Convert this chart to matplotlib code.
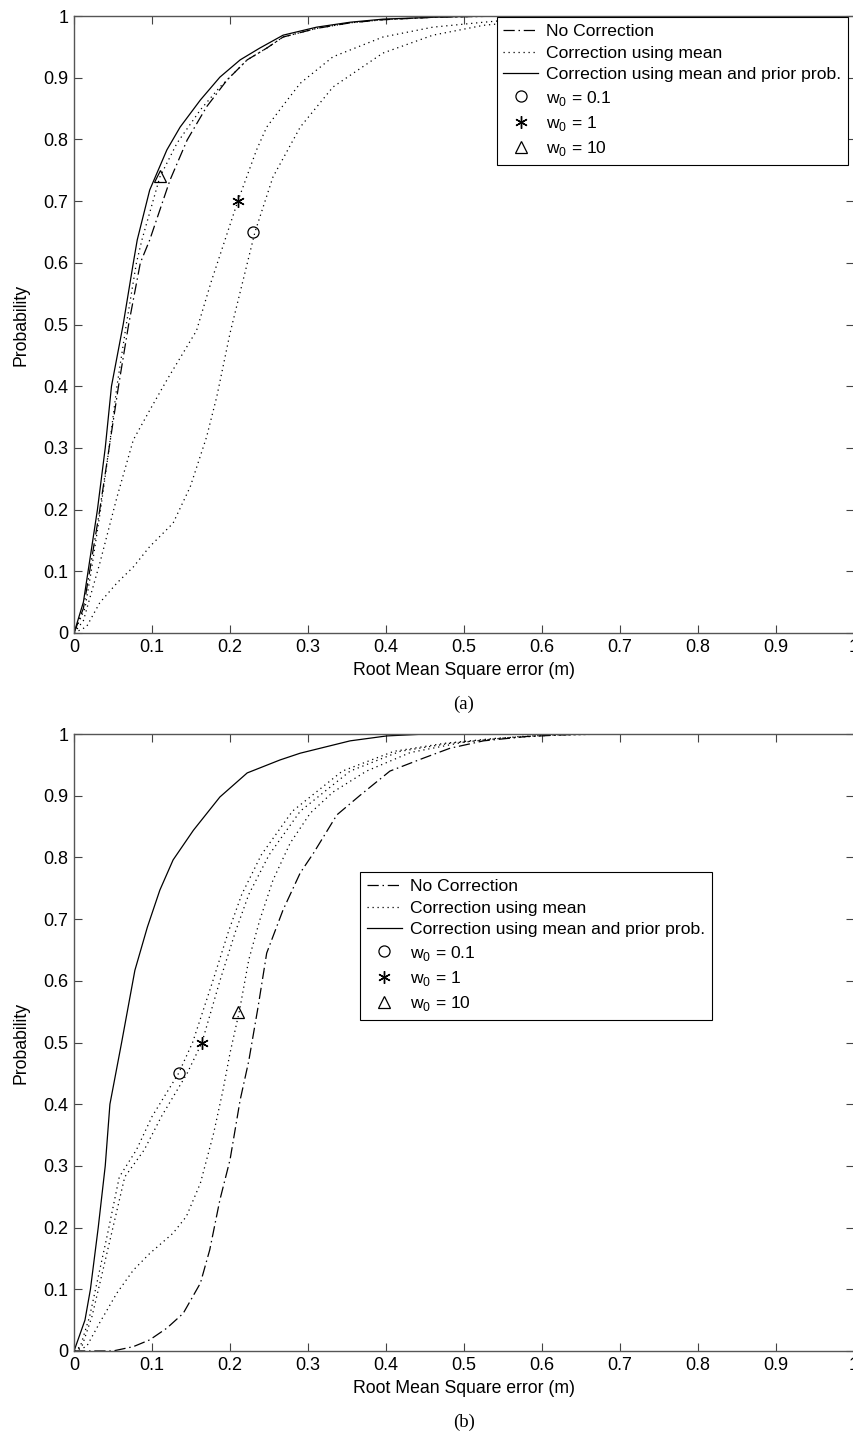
import matplotlib
matplotlib.use("Agg")
import matplotlib.pyplot as plt
from matplotlib.lines import Line2D

plt.rcParams['font.family'] = ['Liberation Sans', 'DejaVu Sans']
plt.rcParams['mathtext.fontset'] = 'custom'
plt.rcParams['mathtext.rm'] = 'Liberation Sans'

# ---- panel (a) ----
a_nocorr_x = [0, 0.012, 0.020, 0.033, 0.045, 0.057, 0.070, 0.085, 0.097, 0.123, 0.145, 0.17, 0.196, 0.222, 0.247, 0.268, 0.311, 0.354, 0.396, 0.46, 0.55, 1.0]
a_nocorr_y = [0, 0.04, 0.10, 0.20, 0.30, 0.40, 0.50, 0.60, 0.637, 0.734, 0.799, 0.853, 0.896, 0.929, 0.948, 0.966, 0.98, 0.989, 0.994, 0.998, 1.0, 1.0]

a_solid_x = [0, 0.012, 0.018, 0.030, 0.040, 0.048, 0.063, 0.076, 0.081, 0.097, 0.119, 0.136, 0.162, 0.187, 0.213, 0.238, 0.268, 0.311, 0.354, 0.396, 0.46, 0.52, 1.0]
a_solid_y = [0, 0.05, 0.10, 0.20, 0.30, 0.40, 0.50, 0.60, 0.637, 0.718, 0.783, 0.82, 0.864, 0.901, 0.929, 0.948, 0.969, 0.982, 0.990, 0.995, 0.998, 1.0, 1.0]

a_mean10_x = [0, 0.014, 0.022, 0.034, 0.045, 0.055, 0.067, 0.080, 0.087, 0.11, 0.132, 0.162, 0.187, 0.222, 0.247, 0.268, 0.311, 0.354, 0.396, 0.46, 0.55, 1.0]
a_mean10_y = [0, 0.04, 0.10, 0.20, 0.30, 0.40, 0.50, 0.60, 0.637, 0.739, 0.794, 0.848, 0.885, 0.929, 0.948, 0.966, 0.98, 0.989, 0.994, 0.998, 1.0, 1.0]

a_mean1_x = [0, 0.012, 0.033, 0.055, 0.076, 0.097, 0.119, 0.157, 0.176, 0.21, 0.234, 0.247, 0.268, 0.29, 0.332, 0.396, 0.46, 0.525, 0.58, 0.64, 1.0]
a_mean1_y = [0, 0.02, 0.113, 0.22, 0.313, 0.361, 0.41, 0.49, 0.57, 0.70, 0.783, 0.82, 0.855, 0.891, 0.934, 0.966, 0.982, 0.99, 0.996, 1.0, 1.0]

a_mean01_x = [0, 0.016, 0.033, 0.055, 0.076, 0.097, 0.127, 0.149, 0.170, 0.183, 0.200, 0.232, 0.255, 0.29, 0.332, 0.396, 0.46, 0.525, 0.59, 0.66, 1.0]
a_mean01_y = [0, 0.01, 0.049, 0.081, 0.107, 0.14, 0.178, 0.237, 0.318, 0.383, 0.486, 0.65, 0.739, 0.82, 0.885, 0.94, 0.969, 0.985, 0.993, 1.0, 1.0]

a_marker_x = [0.23, 0.21, 0.11]   # w0 = 0.1, 1, 10
a_marker_y = [0.65, 0.70, 0.74]

# ---- panel (b) ----
b_nocorr_x = [0, 0.05, 0.076, 0.097, 0.119, 0.14, 0.162, 0.174, 0.187, 0.2, 0.213, 0.224, 0.236, 0.247, 0.268, 0.29, 0.307, 0.337, 0.367, 0.405, 0.448, 0.482, 0.525, 0.58, 0.65, 1.0]
b_nocorr_y = [0, 0, 0.007, 0.018, 0.037, 0.061, 0.11, 0.164, 0.245, 0.31, 0.407, 0.47, 0.558, 0.645, 0.715, 0.775, 0.807, 0.869, 0.901, 0.94, 0.961, 0.977, 0.989, 0.996, 1.0, 1.0]

b_solid_x = [0, 0.014, 0.021, 0.031, 0.040, 0.046, 0.061, 0.078, 0.094, 0.110, 0.127, 0.153, 0.187, 0.222, 0.264, 0.29, 0.354, 0.401, 0.45, 1.0]
b_solid_y = [0, 0.05, 0.10, 0.20, 0.30, 0.40, 0.50, 0.617, 0.687, 0.747, 0.796, 0.844, 0.898, 0.937, 0.958, 0.969, 0.989, 0.997, 1.0, 1.0]

b_mean01_x = [0, 0.008, 0.020, 0.031, 0.043, 0.058, 0.08, 0.10, 0.134, 0.152, 0.178, 0.198, 0.215, 0.24, 0.28, 0.344, 0.41, 0.475, 0.54, 0.605, 0.68, 1.0]
b_mean1_x = [0, 0.010, 0.023, 0.035, 0.048, 0.065, 0.09, 0.112, 0.145, 0.164, 0.187, 0.207, 0.224, 0.25, 0.29, 0.354, 0.418, 0.482, 0.546, 0.61, 0.68, 1.0]
b_mean_y = [0, 0.007, 0.056, 0.12, 0.19, 0.282, 0.326, 0.38, 0.45, 0.5, 0.6, 0.68, 0.74, 0.804, 0.875, 0.94, 0.972, 0.985, 0.993, 0.998, 1.0, 1.0]

b_mean10_x = [0, 0.016, 0.033, 0.055, 0.076, 0.097, 0.127, 0.144, 0.162, 0.179, 0.191, 0.2, 0.212, 0.224, 0.238, 0.255, 0.277, 0.303, 0.332, 0.375, 0.431, 0.5, 0.57, 0.64, 1.0]
b_mean10_y = [0, 0.007, 0.046, 0.094, 0.131, 0.158, 0.191, 0.218, 0.272, 0.353, 0.423, 0.483, 0.551, 0.634, 0.698, 0.763, 0.823, 0.872, 0.906, 0.94, 0.97, 0.987, 0.996, 1.0, 1.0]

b_marker_x = [0.134, 0.164, 0.21]
b_marker_y = [0.45, 0.50, 0.55]

ticks = [0, 0.1, 0.2, 0.3, 0.4, 0.5, 0.6, 0.7, 0.8, 0.9, 1]
tick_labels = ['0', '0.1', '0.2', '0.3', '0.4', '0.5', '0.6', '0.7', '0.8', '0.9', '1']
legend_labels = ['No Correction', 'Correction using mean', 'Correction using mean and prior prob.',
                 'w$_{0}$ = 0.1', 'w$_{0}$ = 1', 'w$_{0}$ = 10']

DASHDOT = (0, (9, 3, 1.2, 3))
DOTTED = (0, (1, 3))
LW = 0.9
STAR = (6, 2, 0)


def panel(ax, nocorr, solid, dotted, mk_x, mk_y, leg_anchor, tag):
    ax.plot(nocorr[0], nocorr[1], color='k', lw=LW, linestyle=DASHDOT)
    for xs, ys in dotted:
        ax.plot(xs, ys, color='k', lw=LW, linestyle=DOTTED)
    ax.plot(solid[0], solid[1], color='k', lw=LW)
    ax.plot(mk_x[0], mk_y[0], 'o', mfc='none', mec='k', ms=8, mew=0.9)
    ax.plot(mk_x[1], mk_y[1], marker=STAR, color='k', ms=9, mew=1.0, linestyle='none')
    ax.plot(mk_x[2], mk_y[2], '^', mfc='none', mec='k', ms=9, mew=0.9)

    ax.set_xlim(0, 1)
    ax.set_ylim(0, 1)
    ax.set_xticks(ticks)
    ax.set_xticklabels(tick_labels)
    ax.set_yticks(ticks)
    ax.set_yticklabels(tick_labels)
    ax.tick_params(direction='in', top=True, right=True, length=6, width=0.8,
                   labelsize=13, color='#444444', pad=4)
    for s in ax.spines.values():
        s.set_color('#555555')
        s.set_linewidth(1.0)
    ax.set_xlabel('Root Mean Square error (m)', fontsize=12.7, labelpad=5)
    ax.set_ylabel('Probability', fontsize=12.7, labelpad=10)
    ax.text(0.5, -0.115, tag, transform=ax.transAxes, ha='center', va='center',
            fontsize=13.5, family='Liberation Serif')

    handles = [
        Line2D([], [], color='k', lw=LW, linestyle=DASHDOT),
        Line2D([], [], color='k', lw=LW, linestyle=DOTTED),
        Line2D([], [], color='k', lw=LW),
        Line2D([], [], marker='o', mfc='none', mec='k', ms=8, mew=0.9, linestyle='none'),
        Line2D([], [], marker=STAR, color='k', ms=9, mew=1.0, linestyle='none'),
        Line2D([], [], marker='^', mfc='none', mec='k', ms=9, mew=0.9, linestyle='none'),
    ]
    leg = ax.legend(handles, legend_labels, loc='upper left', bbox_to_anchor=leg_anchor,
                    borderaxespad=0, fancybox=False, framealpha=1, edgecolor='k',
                    fontsize=12.6, handlelength=2.0, handletextpad=0.45, labelspacing=0.36,
                    borderpad=0.38)
    leg.get_frame().set_linewidth(0.8)


fig = plt.figure(figsize=(8.54, 14.34), dpi=100)
ax1 = fig.add_axes([0.0867, 0.5586, 0.9133, 0.4302])
ax2 = fig.add_axes([0.0867, 0.0579, 0.9133, 0.4302])

panel(ax1, (a_nocorr_x, a_nocorr_y), (a_solid_x, a_solid_y),
      [(a_mean10_x, a_mean10_y), (a_mean1_x, a_mean1_y), (a_mean01_x, a_mean01_y)],
      a_marker_x, a_marker_y, (0.542, 0.998), '(a)')
panel(ax2, (b_nocorr_x, b_nocorr_y), (b_solid_x, b_solid_y),
      [(b_mean01_x, b_mean_y), (b_mean1_x, b_mean_y), (b_mean10_x, b_mean10_y)],
      b_marker_x, b_marker_y, (0.367, 0.776), '(b)')

fig.savefig('out.png', dpi=100)
